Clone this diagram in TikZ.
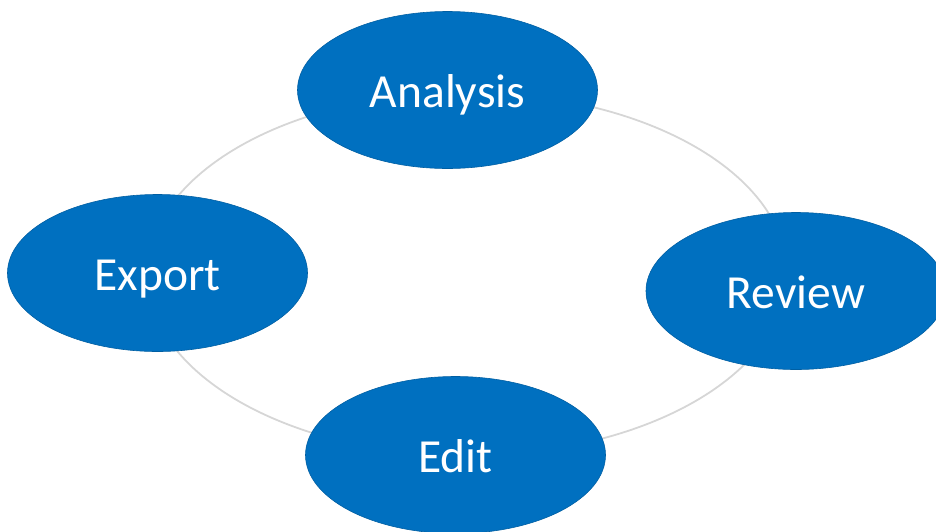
\documentclass[tikz,border=0pt]{standalone}
\usepackage{fontspec}
\setmainfont{Carlito}
\usetikzlibrary{shapes.geometric}
\definecolor{nodeblue}{RGB}{0,112,192}
\definecolor{ringgray}{RGB}{214,214,214}
\tikzset{
  stepellipse/.style={ellipse, fill=nodeblue, draw=nodeblue!85!black, line width=0.6pt,
    minimum width=300pt, minimum height=157pt, inner sep=0pt,
    text=white, font=\fontsize{47.5}{56}\selectfont, text height=34pt, text depth=0pt},
  ringline/.style={draw=ringgray, line width=1.8pt}
}
\begin{document}
\begin{tikzpicture}[x=1pt,y=-1pt]
\useasboundingbox (0,0) rectangle (936,531);
\coordinate (ringc) at (467,274);
\draw[ringline] (ringc) ellipse [x radius=320pt, y radius=181.5pt];
\node[stepellipse] (analysis) at (447.5,90) {Analysis};
\node[stepellipse] (export) at (157.5,273) {Export};
\node[stepellipse] (review) at (796,291) {Review};
\node[stepellipse] (edit) at (455.5,455) {Edit};
\end{tikzpicture}
\end{document}
